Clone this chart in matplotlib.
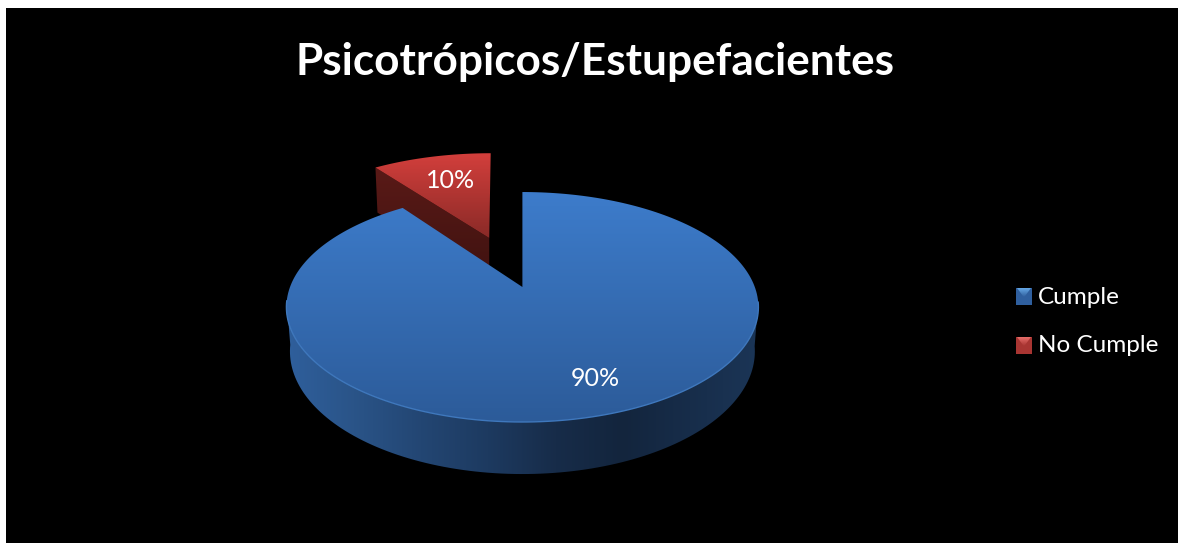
import numpy as np
import matplotlib
matplotlib.use("Agg")
import matplotlib.pyplot as plt
from matplotlib.patches import Polygon, Rectangle
from matplotlib.colors import LinearSegmentedColormap

W, H = 1178, 543
title = "Psicotrópicos/Estupefacientes"
categories = ["Cumple", "No Cumple"]
values = [90, 10]
labels = ["90%", "10%"]
explode = [0.0, 0.5]

APEX = (522.4, 287)
A, C, R, DEPTH = 111.5, 0.174, 232.4, 43

fig = plt.figure(figsize=(W/100, H/100), dpi=100, facecolor="white")
ax = fig.add_axes([0, 0, 1, 1])
ax.set_xlim(0, W); ax.set_ylim(H, 0); ax.axis("off")
ax.add_patch(Rectangle((6, 8), W-6, H-8, fc="black", ec="none", zorder=0))
plt.rcParams["font.family"] = "Lato"


def proj(u, v):
    d = 1 + C*v
    return APEX[0] + R*u/d, APEX[1] - A*v/d


def wedge(start, sweep, offset):
    """Angles clockwise from 12 o'clock, degrees. Returns apex, arc in screen px and depth."""
    t = np.radians(np.linspace(start, start+sweep, 240))
    mid = np.radians(start + sweep/2)
    ox, oy = offset*np.sin(mid), offset*np.cos(mid)
    u, v = ox + np.sin(t), oy + np.cos(t)
    ax_, ay_ = proj(ox, oy)
    x, y = proj(u, v)
    return (ax_, ay_), x, y, DEPTH/(1 + C*v), DEPTH/(1 + C*oy)


def grad(stops, bbox, vertical, clip, z):
    cmap = LinearSegmentedColormap.from_list("g", stops)
    arr = np.linspace(0, 1, 256)
    arr = arr[:, None] if vertical else arr[None, :]
    im = ax.imshow(arr, cmap=cmap, extent=(bbox[0], bbox[1], bbox[3], bbox[2]),
                   aspect="auto", zorder=z, interpolation="bilinear")
    p = Polygon(clip, closed=True, transform=ax.transData, fc="none", ec="none")
    ax.add_patch(p)
    im.set_clip_path(p)


total = sum(values)
sweeps = [360*val/total for val in values]
starts = [0, sweeps[0]]

# red exploded slice (behind the blue one)
apex, x, y, dep, dep0 = wedge(starts[1], sweeps[1], explode[1])
x = apex[0] + (x - apex[0])*1.03 - (apex[1] - y)*0.04
y = apex[1] + (y - apex[1])*1.035
wall = np.vstack([[apex[0], apex[1]], [apex[0], apex[1]+DEPTH+2], [x[0]+2, y[0]+DEPTH+2], [x[0], y[0]]])
grad(["#5a1a17", "#3f1210"], (x[0]-2, apex[0]+2, y[0], apex[1]+DEPTH),
     True, wall, 1)
top = np.vstack([[apex[0], apex[1]], np.c_[x, y]])
grad(["#d33f3c", "#8a2a27"], (x.min(), x.max(), y.min(), apex[1]), True, top, 2)

# blue slice
apex, x, y, dep, dep0 = wedge(starts[0], sweeps[0], explode[0])
vis = y > 300
xb = APEX[0] + (x - APEX[0])*0.985
wall = np.vstack([np.c_[xb, y+dep][vis], np.c_[x, y][vis][::-1]])
grad(["#2f5f9c", "#2a5488", "#234673", "#1d3a60", "#172c49", "#13253d", "#172d4a", "#1b3556"],
     (x.min(), x.max(), 300, 480), False, wall, 3)
top = np.vstack([[apex[0], apex[1]], np.c_[x, y]])
grad(["#3d7ccb", "#2c5b99"], (x.min(), x.max(), y.min(), y.max()), True, top, 4)
ax.plot(x[vis], y[vis], color="#3f78bd", lw=1, zorder=5)

ax.text(595, 379, labels[0], color="white", fontsize=18, ha="center", va="center", zorder=6)
ax.text(451, 180, labels[1], color="white", fontsize=18, ha="center", va="center", zorder=6)

ax.text(595, 62, title, color="white", fontsize=31.8, fontweight="bold",
        ha="center", va="center", zorder=6)

# legend
for ypos, cat, base, hi, lo in zip([296, 344], categories,
                                   ["#2f5f9e", "#a83532"],
                                   ["#6cb0ee", "#ee7470"],
                                   ["#2c5a94", "#9a2f2c"]):
    my = ypos + 0.5 + (1 if cat != categories[0] else 0)
    L, Rt, T, B = 1016, 1032, my-8.5, my+8.5
    ax.add_patch(Rectangle((L, T), Rt-L, B-T, fc=base, ec="none", zorder=6))
    grad([hi, base], (L, Rt, T, my+1), True,
         [(L+1, T), (Rt-1, T), ((L+Rt)/2, my+1)], 7)
    ax.text(1037.5, ypos+2, cat, color="white", fontsize=17.5, ha="left", va="center", zorder=6)

ax.set_xlim(0, W); ax.set_ylim(H, 0)
fig.savefig("out.png", dpi=100, facecolor="white")
